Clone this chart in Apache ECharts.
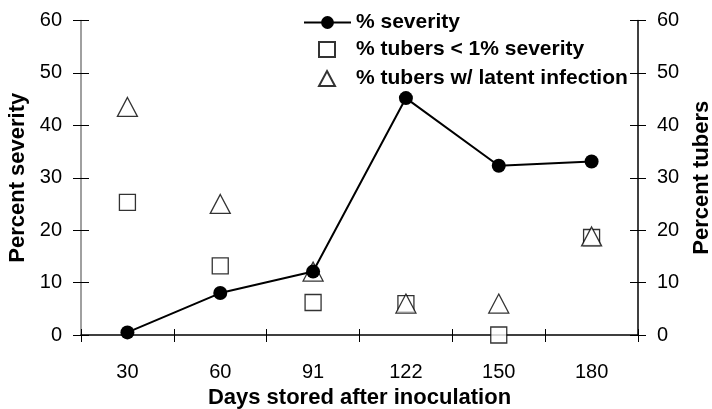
<!DOCTYPE html>
<html>
<head>
<meta charset="utf-8">
<script src="https://cdn.jsdelivr.net/npm/echarts@6/dist/echarts.min.js"></script>
<style>
html,body{margin:0;padding:0;background:#fff;}
#chart{width:712px;height:409px;}
</style>
</head>
<body>
<div id="chart"></div>
<script>
var categories = ['30', '60', '91', '122', '150', '180'];
var severity = [0.5, 8.0, 12.1, 45.2, 32.3, 33.1];
var tubersLow = [25.3, 13.2, 6.2, 6.0, 0, 18.6];
var tubersLatent = [43.5, 25.0, 12.1, 6.0, 6.0, 18.8];
var yTicks = { min: 0, max: 60, interval: 10 };

var FONT = 'Arial, "Liberation Sans", sans-serif';
var chart = echarts.init(document.getElementById('chart'), null, { renderer: 'canvas' });

function yAxisMain(pos, name, lineColor, gap) {
  return {
    type: 'value', position: pos, min: yTicks.min, max: yTicks.max, interval: yTicks.interval,
    name: name, nameLocation: 'middle', nameGap: gap, nameRotate: 90,
    nameTextStyle: { fontFamily: FONT, fontSize: 22, fontWeight: 'bold', color: '#000' },
    axisLine: { show: true, lineStyle: { color: lineColor, width: 1.5 } },
    axisTick: { show: true, inside: false, length: 8, lineStyle: { color: '#000', width: 1 } },
    axisLabel: { margin: 19, fontFamily: FONT, fontSize: 20, color: '#000' },
    splitLine: { show: false }
  };
}
function yAxisInner(pos) {
  return {
    type: 'value', position: pos, min: yTicks.min, max: yTicks.max, interval: yTicks.interval,
    axisLine: { show: false },
    axisTick: { show: true, inside: true, length: 8, lineStyle: { color: '#000', width: 1 } },
    axisLabel: { show: false }, splitLine: { show: false }
  };
}
var legendText = { fontFamily: FONT, fontSize: 21, fontWeight: 'bold', color: '#000' };

var option = {
  backgroundColor: '#fff',
  animation: false,
  grid: { left: 81, right: 74, top: 20.5, bottom: 74, containLabel: false, outerBoundsMode: 'none' },
  legend: [
    {
      orient: 'vertical', left: 298, top: 7,
      itemWidth: 47, itemHeight: 16,
      textStyle: legendText,
      data: [{ name: '% severity' }]
    },
    {
      orient: 'vertical', left: 313, top: 34, itemGap: 8,
      itemWidth: 16, itemHeight: 15,
      textStyle: Object.assign({ padding: [0, 0, 0, 16] }, legendText),
      data: [{ name: '% tubers < 1% severity' }, { name: '% tubers w/ latent infection' }]
    }
  ],
  xAxis: [
    {
      type: 'category', data: categories, position: 'bottom', boundaryGap: true,
      name: 'Days stored after inoculation', nameLocation: 'middle', nameGap: 49,
      nameTextStyle: { fontFamily: FONT, fontSize: 22, fontWeight: 'bold', color: '#000' },
      axisLine: { show: true, lineStyle: { color: '#000', width: 1.5 } },
      axisTick: { show: true, inside: false, length: 7, lineStyle: { color: '#000', width: 1 } },
      axisLabel: { margin: 27, fontFamily: FONT, fontSize: 20, color: '#000' },
      splitLine: { show: false }
    },
    {
      type: 'category', data: categories, position: 'bottom', boundaryGap: true,
      axisLine: { show: false },
      axisTick: { show: true, inside: true, length: 6, lineStyle: { color: '#000', width: 1 } },
      axisLabel: { show: false }, splitLine: { show: false }
    }
  ],
  yAxis: [
    yAxisMain('left', 'Percent severity', '#808080', 52),
    yAxisMain('right', 'Percent tubers', '#000', 53),
    yAxisInner('left'),
    yAxisInner('right')
  ],
  series: [
    {
      name: '% severity', type: 'line', xAxisIndex: 0, yAxisIndex: 0, data: severity,
      symbol: 'circle', symbolSize: 14,
      lineStyle: { color: '#000', width: 2 },
      itemStyle: { color: '#000' }, z: 3
    },
    {
      name: '% tubers < 1% severity', type: 'scatter', xAxisIndex: 0, yAxisIndex: 1, data: tubersLow,
      symbol: 'rect', symbolSize: 16,
      itemStyle: { color: '#fff', borderColor: '#000', borderWidth: 1.3 }, z: 2
    },
    {
      name: '% tubers w/ latent infection', type: 'scatter', xAxisIndex: 0, yAxisIndex: 1, data: tubersLatent,
      symbol: 'triangle', symbolSize: [20, 19],
      itemStyle: { color: '#fff', borderColor: '#000', borderWidth: 1.3 }, z: 2
    }
  ]
};
chart.setOption(option);
</script>
</body>
</html>
